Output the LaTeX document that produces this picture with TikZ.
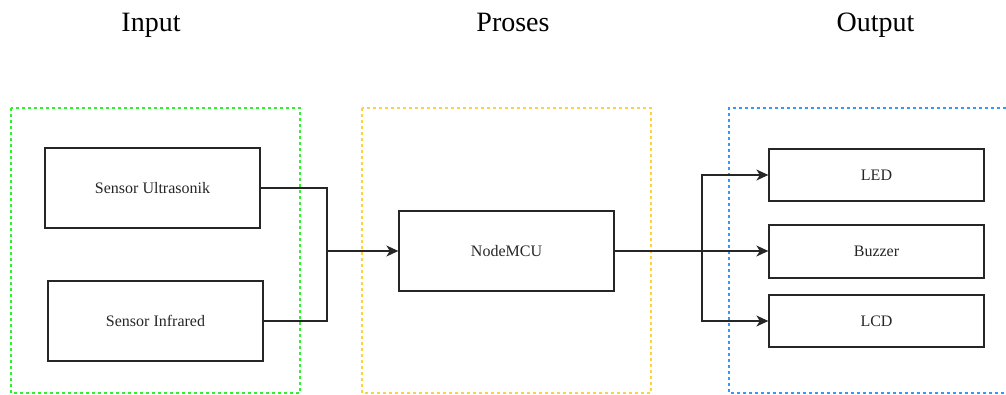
\documentclass[tikz,border=0pt]{standalone}
\usepackage{fontspec}
\setmainfont{Liberation Serif}
\usetikzlibrary{arrows.meta}
\definecolor{grn}{HTML}{33EE33}
\definecolor{ylw}{HTML}{FFD040}
\definecolor{blu}{HTML}{3399FF}
\tikzset{
  blk/.style={draw=black!85, line width=1.3pt, minimum width=215pt, inner sep=0pt, font=\fontsize{16}{18}\selectfont, text=black!85},
  grp/.style={line width=1.1pt, dash pattern=on 3pt off 3pt},
  title/.style={font=\fontsize{28}{32}\selectfont, anchor=base},
  conn/.style={draw=black!85, line width=1.3pt},
  arr/.style={conn, -{Stealth[length=12pt,width=11pt,inset=3.5pt]}}
}
\begin{document}
\begin{tikzpicture}[x=1pt,y=-1pt]
\useasboundingbox (0,0) rectangle (1006,394);
% titles
\node[title] (tin) at (151,31) {Input};
\node[title] (tpr) at (513,31) {Proses};
\node[title] (tout) at (875.5,31) {Output};
% group frames
\draw[grp, draw=grn] (11,108) rectangle (300,393);
\draw[grp, draw=ylw] (362,108) rectangle (651,393);
\draw[grp, draw=blu] (1012,108) -- (729,108) -- (729,393) -- (1012,393);
% blocks
\node[blk, minimum height=80pt] (us) at (152.5,188) {Sensor Ultrasonik};
\node[blk, minimum height=80pt] (ir) at (155.5,321) {Sensor Infrared};
\node[blk, minimum height=80pt] (mcu) at (506.5,251) {NodeMCU};
\node[blk, minimum height=52pt] (led) at (876.5,175) {LED};
\node[blk, minimum height=53pt] (buz) at (876.5,251.5) {Buzzer};
\node[blk, minimum height=52pt] (lcd) at (876.5,321) {LCD};
% connectors
\coordinate (j) at (327,251);
\coordinate (b) at (702,251);
\draw[conn] (us.east) -| (j);
\draw[conn] (ir.east) -| (j);
\draw[arr] (j) -- (mcu.west);
\draw[arr] (mcu.east) -- (mcu.east -| buz.west);
\draw[arr] (b) |- (led.west);
\draw[arr] (b) |- (lcd.west);
\end{tikzpicture}
\end{document}
